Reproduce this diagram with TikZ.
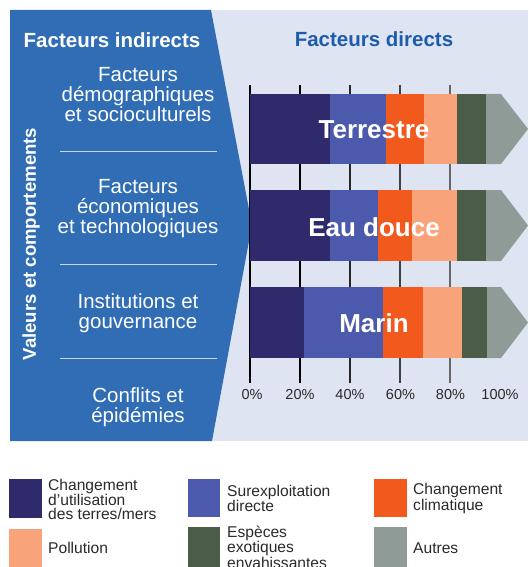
\documentclass[tikz,border=0pt]{standalone}
\usepackage{fontspec}
\setmainfont{Liberation Sans}
\definecolor{panel}{HTML}{DFE4F2}
\definecolor{leftblue}{HTML}{306DB5}
\definecolor{headblue}{HTML}{1D5CAA}
\definecolor{cNavy}{HTML}{2F2A6B}
\definecolor{cBlue}{HTML}{4C5AAE}
\definecolor{cOrange}{HTML}{F2591C}
\definecolor{cSalmon}{HTML}{F9A37B}
\definecolor{cGreen}{HTML}{4A5D49}
\definecolor{cGray}{HTML}{8F9B97}
\definecolor{divider}{HTML}{C9D6EE}
\definecolor{txt}{HTML}{2A2A2A}
\begin{document}
\begin{tikzpicture}[x=1pt,y=-1pt,
  item/.style={text=white, align=center, inner sep=0pt, font=\fontsize{20.5}{20}\selectfont},
  head/.style={inner sep=0pt, font=\bfseries\fontsize{20.5}{22}\selectfont},
  barlabel/.style={text=white, inner sep=0pt, font=\bfseries\fontsize{26}{28}\selectfont},
  pct/.style={text=txt, inner sep=0pt, font=\fontsize{14.5}{16}\selectfont},
  legtext/.style={text=txt, align=left, anchor=west, inner sep=0pt, font=\fontsize{15.6}{14}\selectfont},
  tick/.style={draw=#1, line width=1.1pt},
  divline/.style={draw=divider, line width=1pt}]
\useasboundingbox (0,0) rectangle (528,567);
\fill[white] (0,0) rectangle (528,567);
% panel and blue arrow
\fill[panel] (10,10) rectangle (528,441);
\fill[leftblue] (10,10) -- (211,10) -- (252,225) -- (212,441) -- (10,441) -- cycle;
% headers
\node[head, text=white] (hind) at (112,40) {Facteurs indirects};
\node[head, text=headblue] (hdir) at (374,39) {Facteurs directs};
% vertical label
\node[text=white, inner sep=0pt, rotate=90, font=\bfseries\fontsize{18.6}{20}\selectfont] (valeurs) at (31,244) {Valeurs et comportements};
% left items
\node[item] (demo) at (138,95) {Facteurs\\démographiques\\et socioculturels};
\node[item] (eco) at (138,209) {Facteurs\\économiques\\et technologiques};
\node[item] (inst) at (138,313) {Institutions et\\gouvernance};
\node[item] (conf) at (138,407) {Conflits et\\épidémies};
\coordinate (d1a) at (60,151); \coordinate (d1b) at (217,151);
\coordinate (d2a) at (60,264); \coordinate (d2b) at (217,264);
\coordinate (d3a) at (60,358); \coordinate (d3b) at (217,358);
\draw[divline] (d1a) -- (d1b);
\draw[divline] (d2a) -- (d2b);
\draw[divline] (d3a) -- (d3b);
% ticks
\foreach \i/\c in {0/black,1/black,2/black!85,3/black!75,4/black!60} {
  \coordinate (t\i a) at (250+50*\i,85);
  \coordinate (t\i b) at (250+50*\i,383);
  \draw[tick=\c] (t\i a) -- (t\i b);
}
% bars
\foreach \top/\bot/\a/\b/\c/\d/\e in {94/164/330/385.7/423.7/457/486, 190/261/330/378/412/457/486, 287/358/304/383/423/462/487} {
  \fill[cNavy] (250,\top) rectangle (\a,\bot);
  \fill[cBlue] (\a,\top) rectangle (\b,\bot);
  \fill[cOrange] (\b,\top) rectangle (\c,\bot);
  \fill[cSalmon] (\c,\top) rectangle (\d,\bot);
  \fill[cGreen] (\d,\top) rectangle (\e,\bot);
  \fill[cGray] (\e,\top) -- (501,\top) -- (528,{(\top+\bot)/2}) -- (501,\bot) -- (\e,\bot) -- cycle;
}
\node[barlabel] (terre) at (374,130) {Terrestre};
\node[barlabel] (eau) at (374,227) {Eau douce};
\node[barlabel] (marin) at (374,323) {Marin};
% percentages
\node[pct] (p0) at (252,395) {0\%};
\node[pct] (p20) at (300,395) {20\%};
\node[pct] (p40) at (350,395) {40\%};
\node[pct] (p60) at (400.5,395) {60\%};
\node[pct] (p80) at (450.5,395) {80\%};
\node[pct] (p100) at (500,395) {100\%};
% legend
\fill[cNavy] (9,479) rectangle (42,518);
\fill[cBlue] (188,479) rectangle (220,517);
\fill[cOrange] (374,479) rectangle (407,517);
\fill[cSalmon] (9,529) rectangle (42,567);
\fill[cGreen] (188,527) rectangle (220,567);
\fill[cGray] (374,527) rectangle (407,567);
\node[legtext] (l1) at (48,499.5) {Changement\\d’utilisation\\des terres/mers};
\node[legtext] (l2) at (227,498.5) {Surexploitation\\directe};
\node[legtext] (l3) at (413,498.5) {Changement\\climatique};
\node[legtext] (l4) at (48,548) {Pollution};
\node[legtext] (l5) at (227,547) {Espèces\\exotiques\\envahissantes};
\node[legtext] (l6) at (413,548) {Autres};
\end{tikzpicture}
\end{document}
